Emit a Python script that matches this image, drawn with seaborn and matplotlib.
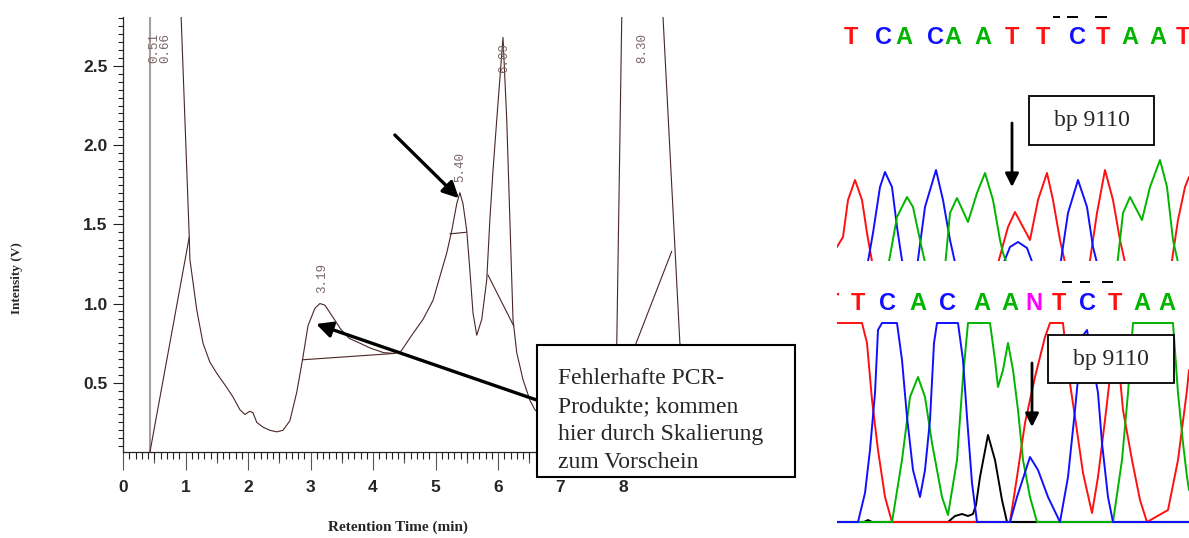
import numpy as np
import pandas as pd
import matplotlib
matplotlib.use("Agg")
import matplotlib.pyplot as plt
from matplotlib import font_manager
from matplotlib.patches import Rectangle
from matplotlib.ticker import FixedLocator, MultipleLocator, NullLocator, FormatStrFormatter
import seaborn as sns

# ---------------------------------------------------------------- HPLC trace
retention_time = [0.45, 0.51, 0.66, 0.80, 0.93, 1.06, 1.07, 1.18, 1.28, 1.39, 1.50,
                  1.66, 1.76, 1.87, 1.95, 2.03, 2.08, 2.14, 2.24, 2.35, 2.46, 2.56,
                  2.67, 2.78, 2.87, 2.96, 3.07, 3.15, 3.23, 3.34, 3.48, 3.62, 3.79,
                  3.95, 4.17, 4.34, 4.45, 4.62, 4.80, 4.96, 5.07, 5.18, 5.26, 5.34,
                  5.39, 5.44, 5.50, 5.55, 5.60, 5.66, 5.74, 5.82, 5.87, 5.92, 5.98,
                  6.08, 6.14, 6.19, 6.24, 6.30, 6.40, 6.51, 6.59, 6.75, 7.00, 7.30,
                  7.60, 7.80, 7.90, 8.02, 8.30, 8.52, 8.64, 8.91, 9.20, 9.60]
intensity = [7.0, 7.6, 7.2, 4.20, 2.81, 1.42, 1.28, 0.96, 0.75, 0.63, 0.56,
             0.47, 0.41, 0.33, 0.30, 0.32, 0.31, 0.25, 0.22, 0.20, 0.19, 0.20,
             0.26, 0.44, 0.64, 0.86, 0.97, 1.00, 0.99, 0.925, 0.84, 0.78, 0.75,
             0.72, 0.69, 0.685, 0.70, 0.80, 0.90, 1.02, 1.17, 1.32, 1.46, 1.63,
             1.70, 1.63, 1.46, 1.21, 0.94, 0.80, 0.90, 1.15, 1.53, 1.84, 2.16,
             2.68, 2.16, 1.53, 0.90, 0.69, 0.52, 0.39, 0.33, 0.27, 0.22, 0.24,
             0.35, 0.50, 0.74, 3.84, 5.50, 3.73, 2.81, 0.75, 0.45, 0.32]

# the two co-eluting front peaks share one label block
peak_times = [0.585, 3.19, 5.40, 6.09, 8.30]
peak_labels = ["0.51\n0.66", "3.19", "5.40", "6.09", "8.30"]
peak_heights = [7.6, 1.00, 1.70, 2.68, 5.50]
injection_time = 0.43

# integration baselines: start/end retention time and start/end intensity
base_rt_start = [0.43, 2.87, 5.23, 5.84, 7.62]
base_rt_end = [1.06, 4.34, 5.49, 6.25, 8.78]
base_int_start = [0.06, 0.645, 1.44, 1.18, 0.15]
base_int_end = [1.42, 0.685, 1.45, 0.86, 1.33]

y_ticks = [0.5, 1.0, 1.5, 2.0, 2.5]
x_ticks = [0, 1, 2, 3, 4, 5, 6, 7, 8]

# ------------------------------------------------ sequencing electropherograms
# upper panel (reference sequence)
top_calls = "TCACAATTCTAAT"
top_call_pos = [14, 46, 67, 98, 116, 146, 175, 206, 240, 266, 293, 321, 346]
top_red_x = [0, 6, 11, 18, 25, 30, 36, 160, 171, 178, 186, 193, 201, 210, 216, 223,
             229, 252, 260, 268, 276, 283, 289, 334, 341, 348, 352]
top_red_y = [14, 24, 61, 81, 61, 28, -6, -6, 34, 49, 34, 21, 61, 88, 61, 21,
             -6, -6, 48, 91, 61, 21, -6, -6, 41, 74, 84]
top_blue_x = [0, 30, 36, 43, 48, 55, 60, 66, 80, 88, 99, 106, 113, 119, 165, 173,
              181, 190, 197, 223, 231, 241, 250, 256, 261, 352]
top_blue_y = [-6, -6, 28, 74, 89, 74, 34, -6, -6, 54, 91, 61, 21, -6, -6, 14,
              19, 13, -6, -6, 48, 81, 54, 14, -6, -6]
top_green_x = [0, 51, 60, 70, 76, 83, 89, 108, 113, 120, 131, 140, 148, 156, 163,
               166, 171, 280, 286, 293, 305, 313, 323, 330, 336, 342, 352]
top_green_y = [-6, -6, 44, 64, 54, 21, -6, -6, 48, 63, 39, 68, 88, 61, 21,
               8, -6, -6, 48, 64, 41, 74, 101, 74, 21, -6, -6]
top_dash_start = [216, 230, 258]
top_dash_end = [223, 241, 270]

# lower panel (sample with the variant at bp 9110)
bot_calls = "TTCACAANTCTAA"
bot_call_pos = [-5, 21, 51, 81, 110, 145, 173, 197, 222, 250, 278, 305, 330]
bot_red_x = [0, 25, 30, 35, 41, 48, 55, 173, 180, 188, 198, 208, 213, 226, 231, 238,
             246, 255, 261, 268, 275, 280, 286, 295, 303, 310, 331, 341, 350, 352]
bot_red_y = [199, 199, 179, 122, 72, 25, 0, 0, 45, 99, 145, 185, 199, 199, 152, 105,
             49, 9, 45, 102, 162, 177, 112, 62, 22, 0, 12, 62, 132, 152]
bot_blue_x = [0, 21, 28, 33, 38, 41, 45, 60, 65, 70, 76, 83, 88, 93, 97, 100, 121,
              126, 130, 135, 140, 173, 180, 193, 201, 211, 223, 231, 238, 245, 250,
              261, 265, 271, 276, 352]
bot_blue_y = [0, 0, 29, 72, 129, 192, 199, 199, 162, 105, 52, 25, 52, 102, 179, 199, 199,
              162, 105, 39, 0, 0, 25, 65, 52, 25, 0, 45, 112, 185, 192,
              129, 79, 25, 0, 0]
bot_green_x = [0, 55, 65, 73, 81, 88, 95, 105, 111, 120, 126, 131, 153, 158, 161, 166,
               171, 176, 181, 186, 193, 200, 276, 285, 291, 296, 336, 341, 346, 350, 352]
bot_green_y = [0, 0, 62, 125, 145, 125, 79, 25, 7, 62, 145, 199, 199, 162, 135, 152,
               179, 152, 112, 62, 25, 0, 0, 62, 129, 199, 199, 129, 79, 45, 32]
bot_black_x = [0, 27, 31, 35, 111, 118, 125, 131, 136, 139, 143, 151, 158, 165, 170, 352]
bot_black_y = [0, 0, 2, 0, 0, 6, 8, 6, 8, 17, 45, 87, 62, 22, 0, 0]
bot_dash_start = [225, 243, 265]
bot_dash_end = [235, 253, 276]

variant_label = "bp 9110"
note_text = "Fehlerhafte PCR-\nProdukte; kommen\nhier durch Skalierung\nzum Vorschein"

BASE_COLORS = {"T": "#ff1010", "C": "#1010ff", "A": "#00b400", "G": "#000000", "N": "#ff00ff"}


def pick_font(*names):
    for name in names:
        try:
            font_manager.findfont(font_manager.FontProperties(family=name),
                                  fallback_to_default=False)
            return name
        except ValueError:
            continue
    return "DejaVu Sans"


sns.set_style("ticks")
plt.rcParams["font.family"] = ["DejaVu Sans"]
narrow = pick_font("Liberation Sans Narrow", "Liberation Sans")
tick_size = 13 if narrow == "Liberation Sans Narrow" else 12.5
serif = pick_font("Liberation Serif", "DejaVu Serif")
mono = pick_font("Liberation Mono", "DejaVu Sans Mono")
sans = pick_font("Liberation Sans", "DejaVu Sans")

W, H = 1189, 538
fig = plt.figure(figsize=(W / 100, H / 100), dpi=100)

# ------------------------------------------------------------ chromatogram
x_max, y_min, y_max = 9.3, 0.061, 2.809
ax = fig.add_axes([123 / W, (H - 452.3) / H, 62.5 * x_max / W, 435.3 / H])
curve_color = "#4a2626"

ax.axvline(injection_time, color="#a89e9e", lw=1.5, zorder=1)
sns.lineplot(x=retention_time, y=intensity, ax=ax, color=curve_color, lw=0.8,
             estimator=None, sort=False, zorder=2)
for xs, xe, ys, ye in zip(base_rt_start, base_rt_end, base_int_start, base_int_end):
    ax.plot([xs, xe], [ys, ye], color=curve_color, lw=0.8, zorder=2)

for t, lab, h in zip(peak_times, peak_labels, peak_heights):
    kw = dict(rotation=90, ha="center", fontsize=9, family=mono, color="#7a6666",
              linespacing=0.85)
    if h + 0.065 < 2.46:
        ax.text(t, h + 0.065, lab, va="bottom", **kw)
    else:
        top = 2.645 if h < y_max else 2.71
        ax.text(t, top, lab, va="top", **kw)

ax.set_xlim(0, x_max)
ax.set_ylim(y_min, y_max)
sns.despine(ax=ax)
ax.spines["left"].set_linewidth(0.9)
ax.spines["bottom"].set_linewidth(0.9)

ax.xaxis.set_major_locator(FixedLocator(x_ticks))
ax.xaxis.set_minor_locator(MultipleLocator(0.1))
ax.yaxis.set_major_locator(FixedLocator(y_ticks))
ax.yaxis.set_minor_locator(MultipleLocator(0.05))
ax.yaxis.set_major_formatter(FormatStrFormatter("%.1f"))
ax.tick_params(axis="x", which="major", length=13, width=0.8, color="#555555", pad=7)
ax.tick_params(axis="x", which="minor", length=5, width=0.8, color="#222222")
ax.tick_params(axis="y", which="major", length=7, width=0.8, color="#222222", pad=4)
ax.tick_params(axis="y", which="minor", length=3.6, width=0.8, color="#222222")
for lab in ax.get_xticklabels() + ax.get_yticklabels():
    lab.set_fontfamily(narrow)
    lab.set_fontweight("bold")
    lab.set_fontsize(tick_size)

half = ax.secondary_xaxis("bottom")
half.xaxis.set_major_locator(FixedLocator(np.arange(0.5, x_max, 1.0)))
half.xaxis.set_minor_locator(NullLocator())
half.tick_params(length=8, width=0.8, color="#555555", labelbottom=False)
half.spines["bottom"].set_visible(False)

ax.set_xlabel("Retention Time (min)", family=serif, fontweight="bold", fontsize=11)
ax.xaxis.label.set_va("center")
ax.xaxis.set_label_coords((398 - 123) / (62.5 * x_max), (452.3 - 527) / 435.3)
ax.set_ylabel("Intensity (V)", family=serif, fontweight="bold", fontsize=9.5)
ax.yaxis.label.set_va("center")
ax.yaxis.set_label_coords((17.5 - 123) / (62.5 * x_max), (452.3 - 278) / 435.3)

# arrows pointing at the small by-product peaks
arrow_kw = dict(arrowstyle="-|>", lw=2.4, color="black", mutation_scale=24,
                shrinkA=0, shrinkB=0)
ax.annotate("", xy=(5.375, 1.665), xytext=(4.35, 2.064), arrowprops=arrow_kw, zorder=6)
ax.annotate("", xy=(3.09, 0.871), xytext=(6.62, 0.391), arrowprops=arrow_kw, zorder=6)

ax.add_patch(Rectangle((537 / W, (H - 477) / H), 258 / W, 132 / H, transform=fig.transFigure,
                       clip_on=False, facecolor="white", edgecolor="black", lw=1.5, zorder=10))
ax.text(558 / W, (H - 467.6) / H, note_text, transform=fig.transFigure, ha="left",
        va="baseline", family=serif, fontsize=17, linespacing=1.42, zorder=11)


# ------------------------------------------------------ electropherograms
def trace_panel(bottom_px, top_px, y_lo, y_hi, traces, calls, call_pos, call_y,
                dash_start, dash_end, dash_y, arrow_x, arrow_from, arrow_to,
                box_x, box_y, box_w, box_h, baseline=False):
    a = fig.add_axes([837 / W, (H - bottom_px) / H, 352 / W, (bottom_px - top_px) / H])
    a.set_xlim(0, 352)
    a.set_ylim(y_lo, y_hi)
    a.set_axis_off()
    if baseline:
        a.axhline(0, color="#383838", lw=1.6, zorder=1)
    for xs, ys, col in traces:
        sns.lineplot(x=xs, y=ys, ax=a, color=col, lw=1.4, estimator=None, sort=False,
                     zorder=2)
    for base, pos in zip(calls, call_pos):
        a.text(pos, call_y, base, color=BASE_COLORS[base], fontsize=17,
               fontweight="bold", family=sans, ha="center", va="center", clip_on=True)
    a.hlines([dash_y] * len(dash_start), dash_start, dash_end, color="black", lw=1.4)
    a.annotate("", xy=(arrow_x, arrow_to), xytext=(arrow_x, arrow_from),
               arrowprops=dict(arrowstyle="-|>", lw=2.0, color="black",
                               mutation_scale=20, shrinkA=0, shrinkB=0), zorder=6)
    a.add_patch(Rectangle((box_x, box_y), box_w, box_h, facecolor="white",
                          edgecolor="black", lw=1.3, zorder=8))
    a.text(box_x + box_w / 2, box_y + box_h / 2, variant_label, family=serif,
           fontsize=17, ha="center", va="center", zorder=9)
    return a


trace_panel(261, 0, 0, 261,
            [(top_red_x, top_red_y, BASE_COLORS["T"]),
             (top_blue_x, top_blue_y, BASE_COLORS["C"]),
             (top_green_x, top_green_y, BASE_COLORS["A"])],
            top_calls, top_call_pos, 223, top_dash_start, top_dash_end, 244,
            175, 138, 74, 192, 116, 125, 49)

trace_panel(525, 270, -3, 252,
            [(bot_black_x, bot_black_y, "#000000"),
             (bot_red_x, bot_red_y, BASE_COLORS["T"]),
             (bot_green_x, bot_green_y, BASE_COLORS["A"]),
             (bot_blue_x, bot_blue_y, BASE_COLORS["C"])],
            bot_calls, bot_call_pos, 219, bot_dash_start, bot_dash_end, 240,
            195, 159, 95, 211, 139, 126, 48, baseline=True)

fig.savefig("out.png", dpi=100)
